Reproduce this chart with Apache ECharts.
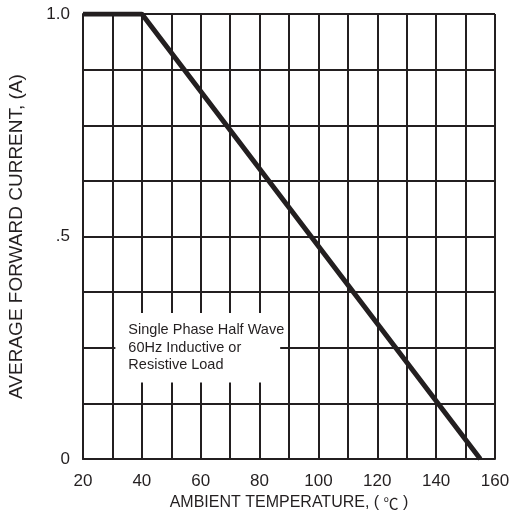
<!DOCTYPE html>
<html>
<head>
<meta charset="utf-8">
<script src="https://cdn.jsdelivr.net/npm/echarts@6/dist/echarts.min.js"></script>
<style>html,body{margin:0;padding:0;background:#fff}#c{width:524px;height:519px}</style>
</head>
<body>
<div id="c"></div>
<script>
var temps = [20, 40, 155];
var current = [1.0, 1.0, 0];
var xTickLabels = {20:'20',40:'40',60:'60',80:'80',100:'100',120:'120',140:'140',160:'160'};
var yTickLabels = {0:'0',0.5:'.5',1:'1.0'};
var noteLines = ['Single Phase Half Wave', '60Hz Inductive or', 'Resistive Load'];
var noteBox = [[31, 0.172], [87, 0.328]];

var font = '"Liberation Sans", Arial, sans-serif';
var cjk = '"Noto Sans CJK SC", sans-serif';
var ink = '#231f20';
var chart = echarts.init(document.getElementById('c'), null, {renderer: 'canvas'});
chart.setOption({
  animation: false,
  backgroundColor: '#fff',
  grid: {left: 83, right: 29, top: 14, bottom: 60, containLabel: false, outerBoundsMode: 'none'},
  xAxis: {
    type: 'value', min: 20, max: 160, interval: 10,
    name: '{a|AMBIENT TEMPERATURE, ( }{c|℃}{a| )}', nameLocation: 'middle', nameGap: 32,
    nameTextStyle: {fontFamily: font, fontSize: 16, color: ink,
      rich: {a: {fontFamily: font, fontSize: 16, color: ink},
             c: {fontFamily: cjk, fontSize: 15, color: ink}}},
    axisLine: {show: true, lineStyle: {color: ink, width: 2}},
    axisTick: {show: false},
    axisLabel: {fontFamily: font, fontSize: 17, color: ink, margin: 14,
      formatter: function (v) { return xTickLabels[v] || ''; }},
    splitLine: {show: true, lineStyle: {color: ink, width: 2}}
  },
  yAxis: {
    type: 'value', min: 0, max: 1, interval: 0.125,
    name: 'AVERAGE FORWARD CURRENT, (A)', nameLocation: 'middle', nameGap: 57,
    nameTextStyle: {fontFamily: font, fontSize: 19, color: ink},
    axisLine: {show: true, lineStyle: {color: ink, width: 2}},
    axisTick: {show: false},
    axisLabel: {fontFamily: font, fontSize: 17, color: ink, margin: 13,
      formatter: function (v) { return yTickLabels[v] !== undefined ? yTickLabels[v] : ''; }},
    splitLine: {show: true, lineStyle: {color: ink, width: 2}}
  },
  series: [{
    type: 'line',
    data: temps.map(function (t, i) { return [t, current[i]]; }),
    symbol: 'none',
    lineStyle: {color: ink, width: 5},
    z: 3,
    markArea: {
      silent: true,
      itemStyle: {color: '#fff', opacity: 1},
      label: {show: true, position: 'insideLeft', distance: 13,
        formatter: noteLines.join('\n'), fontFamily: font, fontSize: 14.5,
        lineHeight: 17.5, color: ink},
      data: [[{coord: noteBox[0]}, {coord: noteBox[1]}]]
    }
  }]
});
</script>
</body>
</html>
